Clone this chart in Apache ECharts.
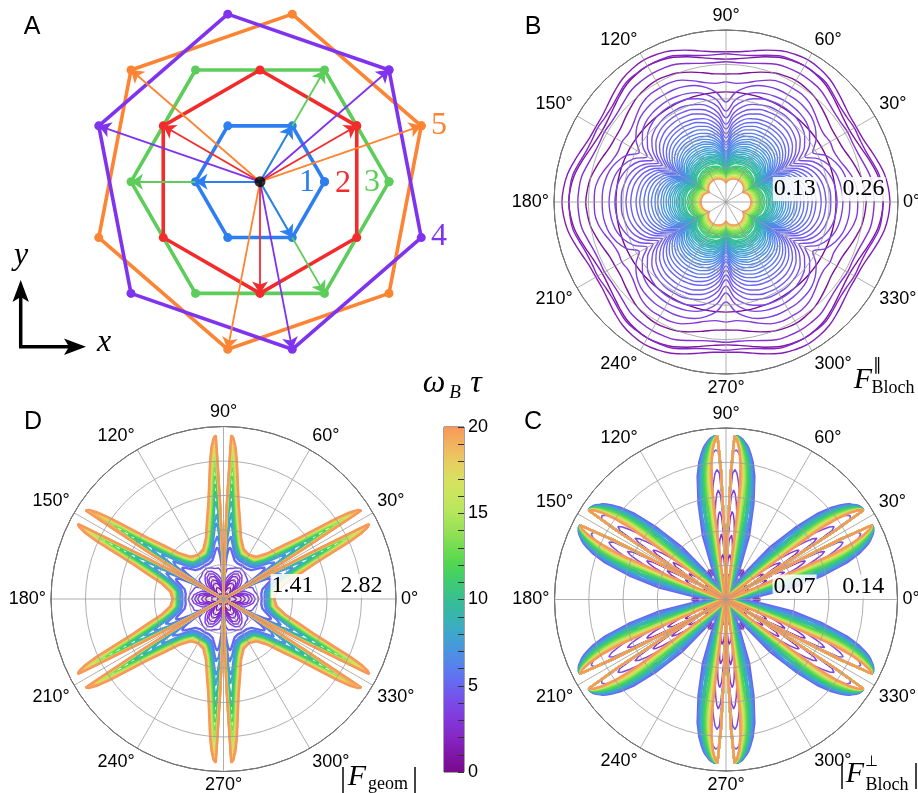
<!DOCTYPE html>
<html><head><meta charset="utf-8">
<script src="https://cdn.jsdelivr.net/npm/echarts@6.0.0/dist/echarts.min.js"></script>
<style>html,body{margin:0;padding:0;background:#fff}#c{width:918px;height:793px}</style>
</head><body><div id="c"></div>
<script>
// ---------------- Panel A : lattice shells (units of nearest-neighbour distance) ----------------
const HEX1 = [[1,0],[0.5,0.866],[-0.5,0.866],[-1,0],[-0.5,-0.866],[0.5,-0.866]];
const HEX2 = [[1.5,0.866],[0,1.732],[-1.5,0.866],[-1.5,-0.866],[0,-1.732],[1.5,-0.866]];
const HEX3 = [[2,0],[1,1.732],[-1,1.732],[-2,0],[-1,-1.732],[1,-1.732]];
const HEX4 = [[2,1.732],[-0.5,2.598],[-2.5,0.866],[-2,-1.732],[0.5,-2.598],[2.5,-0.866]];
const HEX5 = [[2.5,0.866],[0.5,2.598],[-2,1.732],[-2.5,-0.866],[-0.5,-2.598],[2,-1.732]];
const ARROWS1 = [[0.5,0.866],[-1,0],[0.5,-0.866]];
const ARROWS2 = [[1.5,0.866],[-1.5,0.866],[0,-1.732]];
const ARROWS3 = [[1,1.732],[-2,0],[1,-1.732]];
const ARROWS4 = [[2,1.732],[-2.5,0.866],[0.5,-2.598]];
const ARROWS5 = [[2.5,0.866],[-2,1.732],[-0.5,-2.598]];
const SHELL_COLORS = ['#2d7ef0','#f22c2c','#5ccd5a','#7f33ee','#fd8433'];
const SHELL_LABELS = ['1','2','3','4','5'];

// ---------------- colour scale  (omega_B tau) ----------------
const CMAP_VALUES = [0,1,2,3,4,5,6,7,8,9,10,11,12,13,14,15,16,17,18,19,20];
const CMAP_COLORS = ['#780a8c','#7f16a8','#8526c4','#8237da','#7a4ae8','#6a64f2','#5a7eee','#4b93e0','#3fa6cc','#38b4b0','#37bf92','#3fcb72','#4fd653','#72dc50','#98e055','#b4e65c','#c8e65e','#d8e060','#e8cc60','#f2b25e','#f89858'];
const CBAR_TICKS = [0,5,10,15,20];

// ---------------- Panel B : F_Bloch parallel ; radii at half-sector angles (mirrored, 60 deg period) ----------------
const PHI_B = [0,5,10,15,20,25,30];
const OMEGA_B = [0,0.5,1,1.5,2,2.5,3,3.5,3.75,4,4.25,4.5,4.75,5,5.25,5.5,5.75,6,6.25,6.5,6.75,7,7.25,7.5,7.75,8,8.25,8.5,8.75,9,9.25,9.5,9.75,10,10.5,11,11.5,12,12.5,13,13.5,14,14.5,15,16,17,18,19,20];
const R_B = [
[.208,.208,.208,.208,.208,.208,.208],
[.265,.263,.260,.254,.248,.243,.242],
[.297,.295,.291,.284,.277,.272,.270],
[.310,.308,.304,.297,.290,.285,.284],
[.297,.296,.294,.287,.281,.279,.280],
[.280,.279,.277,.271,.266,.264,.265],
[.249,.249,.245,.237,.229,.225,.227],
[.234,.234,.232,.228,.220,.208,.189],
[.221,.220,.218,.214,.206,.193,.172],
[.210,.209,.207,.202,.194,.181,.159],
[.198,.198,.195,.191,.183,.169,.147],
[.189,.188,.186,.181,.173,.160,.138],
[.180,.179,.177,.172,.164,.150,.129],
[.170,.169,.167,.163,.155,.142,.121],
[.163,.162,.160,.155,.147,.135,.113],
[.155,.154,.152,.148,.140,.128,.108],
[.147,.147,.145,.141,.133,.122,.102],
[.141,.140,.138,.134,.127,.115,.096],
[.134,.134,.132,.128,.121,.110,.092],
[.129,.128,.126,.122,.116,.105,.088],
[.123,.122,.121,.117,.111,.101,.084],
[.118,.118,.116,.113,.107,.097,.081],
[.113,.113,.111,.108,.103,.094,.078],
[.109,.108,.107,.104,.098,.090,.076],
[.105,.105,.103,.100,.095,.087,.074],
[.101,.101,.099,.097,.092,.084,.072],
[.097,.097,.096,.093,.089,.082,.070],
[.094,.093,.092,.090,.086,.079,.068],
[.091,.090,.089,.087,.083,.077,.066],
[.088,.088,.087,.084,.081,.075,.065],
[.085,.085,.084,.082,.078,.073,.063],
[.082,.082,.081,.079,.076,.070,.062],
[.080,.080,.079,.077,.074,.069,.060],
[.077,.077,.076,.075,.072,.067,.059],
[.074,.073,.072,.070,.068,.063,.057],
[.071,.070,.070,.068,.065,.061,.055],
[.068,.068,.067,.065,.063,.059,.053],
[.066,.065,.064,.063,.060,.057,.051],
[.064,.063,.062,.061,.059,.055,.050],
[.061,.061,.060,.059,.057,.053,.049],
[.060,.060,.059,.057,.055,.052,.048],
[.058,.058,.057,.056,.054,.051,.046],
[.057,.057,.056,.055,.053,.050,.045],
[.056,.055,.055,.053,.052,.049,.044],
[.053,.053,.052,.051,.049,.047,.043],
[.051,.051,.050,.049,.047,.045,.041],
[.050,.050,.049,.048,.046,.043,.039],
[.048,.048,.047,.046,.044,.042,.037],
[.047,.047,.046,.045,.043,.040,.036]];
const B_TICK_VALUES = [0.13,0.26];
const B_TICK_LABELS = ['0.13','0.26'];

// ---------------- Panel D : |F_geom| ----------------
const PHI_D = [0,8,14,18,21,23,24.5,25.5,26.5,27.3,28,29,30];
const OMEGA_D = [0.5,1,1.5,2,2.5,3,3.5,4,5,6,7,8,9,10,11,12,13,14,15,16,17,18,19,20];
const R_D = [
[.14,.13,.11,.08,.07,.05,.04,.03,.03,.02,.01,.01,0],
[.27,.24,.20,.16,.12,.10,.08,.06,.05,.04,.03,.01,0],
[.37,.34,.27,.22,.17,.13,.10,.09,.07,.05,.04,.02,0],
[.45,.41,.33,.26,.20,.16,.13,.10,.08,.06,.05,.02,0],
[.53,.49,.39,.31,.24,.19,.15,.12,.10,.08,.06,.03,0],
[.59,.55,.46,.39,.33,.28,.23,.19,.15,.11,.08,.04,0],
[.65,.61,.54,.49,.45,.41,.37,.33,.27,.20,.14,.06,0],
[.72,.69,.65,.64,.64,.62,.58,.53,.45,.35,.25,.10,0],
[.78,.78,.82,.92,1.02,1.06,1.00,.90,.74,.55,.37,.14,0],
[.84,.85,.90,1.02,1.16,1.29,1.29,1.18,.98,.76,.51,.20,0],
[.88,.89,.95,1.10,1.29,1.47,1.56,1.47,1.25,.96,.65,.25,0],
[.91,.92,1.00,1.16,1.36,1.57,1.78,1.74,1.51,1.18,.82,.31,0],
[.94,.95,1.04,1.21,1.43,1.67,1.92,2.00,1.80,1.43,.98,.37,0],
[.96,.97,1.07,1.26,1.50,1.77,2.04,2.21,2.04,1.68,1.14,.43,0],
[.97,.98,1.10,1.30,1.56,1.86,2.16,2.35,2.29,1.90,1.27,.47,0],
[.98,.99,1.13,1.34,1.62,1.94,2.27,2.49,2.51,2.12,1.39,.51,0],
[.99,1.00,1.15,1.38,1.68,2.01,2.37,2.61,2.70,2.33,1.47,.53,0],
[1.00,1.01,1.17,1.42,1.73,2.08,2.46,2.72,2.83,2.53,1.55,.55,0],
[1.01,1.02,1.20,1.46,1.78,2.15,2.55,2.81,2.95,2.72,1.63,.57,0],
[1.02,1.03,1.22,1.50,1.83,2.21,2.62,2.89,3.05,2.90,1.70,.59,0],
[1.02,1.04,1.24,1.53,1.87,2.26,2.68,2.96,3.13,3.04,1.76,.61,0],
[1.03,1.06,1.26,1.56,1.91,2.31,2.74,3.02,3.20,3.17,1.84,.61,0],
[1.04,1.08,1.28,1.60,1.95,2.36,2.80,3.08,3.26,3.27,1.90,.63,0],
[1.04,1.10,1.30,1.63,1.98,2.40,2.85,3.12,3.30,3.35,1.94,.65,0]];
const D_TICK_VALUES = [1.41,2.82];
const D_TICK_LABELS = ['1.41','2.82'];

// ---------------- Panel C : |F_Bloch perpendicular| ----------------
const PHI_C = [0,5,10,14,17,19,20.5,21.5,22.3,23,24,25,26,27,27.8,28.6,29.3,30];
const OMEGA_C = [0.5,1,1.5,2,2.5,3,3.5,4,4.5,5,6,7,8,9,10,11,12,13,14,15,16,17,18,19,20];
const R_C = [
[.012,.011,.008,.006,.005,.004,.003,.003,.002,.002,.002,.002,.001,.001,.001,.001,0,0],
[.022,.020,.015,.011,.009,.009,.009,.009,.010,.010,.010,.010,.009,.008,.006,.004,.002,0],
[.031,.028,.020,.015,.014,.015,.017,.019,.021,.023,.026,.027,.026,.022,.017,.011,.005,0],
[.035,.032,.023,.018,.019,.022,.028,.032,.036,.039,.043,.046,.046,.042,.033,.020,.009,0],
[.033,.030,.022,.019,.022,.030,.037,.043,.049,.054,.061,.066,.067,.061,.048,.030,.012,0],
[.029,.027,.021,.021,.029,.039,.049,.057,.064,.070,.080,.087,.090,.084,.066,.041,.016,0],
[.024,.023,.022,.027,.039,.053,.065,.074,.083,.090,.100,.108,.112,.106,.086,.051,.020,0],
[.020,.021,.027,.039,.057,.073,.088,.097,.105,.112,.121,.129,.133,.129,.102,.059,.023,0],
[.015,.023,.043,.069,.092,.107,.118,.125,.132,.137,.144,.150,.153,.151,.118,.064,.026,0],
[.010,.031,.069,.102,.129,.143,.151,.156,.159,.161,.164,.166,.167,.167,.131,.069,.027,0],
[.007,.020,.055,.097,.124,.140,.149,.154,.158,.160,.163,.165,.167,.167,.131,.069,.027,0],
[.005,.013,.041,.088,.120,.137,.147,.153,.157,.159,.163,.165,.167,.167,.131,.069,.027,0],
[.004,.009,.029,.068,.114,.133,.144,.151,.155,.158,.162,.165,.167,.167,.131,.069,.027,0],
[.003,.007,.020,.049,.108,.129,.141,.149,.153,.157,.161,.164,.166,.167,.131,.069,.027,0],
[.003,.006,.015,.035,.096,.123,.138,.146,.151,.155,.160,.164,.166,.167,.131,.069,.027,0],
[.002,.005,.012,.026,.059,.114,.133,.143,.149,.153,.159,.163,.166,.167,.131,.069,.027,0],
[.002,.004,.010,.019,.041,.106,.128,.139,.146,.151,.157,.162,.166,.167,.131,.069,.027,0],
[.002,.004,.008,.015,.031,.063,.120,.134,.142,.148,.155,.161,.165,.167,.131,.069,.027,0],
[.001,.003,.007,.012,.023,.041,.112,.129,.138,.145,.153,.160,.165,.167,.131,.069,.027,0],
[.001,.003,.006,.010,.018,.031,.082,.122,.134,.142,.151,.159,.164,.167,.131,.069,.027,0],
[.001,.002,.005,.009,.015,.024,.041,.116,.130,.139,.149,.158,.164,.167,.131,.069,.027,0],
[.001,.002,.004,.007,.012,.019,.031,.092,.125,.136,.147,.157,.164,.167,.131,.069,.027,0],
[.001,.002,.004,.006,.010,.016,.024,.046,.120,.133,.145,.156,.163,.167,.131,.069,.027,0],
[.001,.002,.003,.005,.009,.013,.020,.036,.097,.129,.143,.155,.163,.167,.131,.069,.027,0],
[.001,.001,.003,.005,.008,.011,.017,.029,.061,.117,.140,.154,.163,.167,.131,.069,.027,0]];
const C_TICK_VALUES = [0.07,0.14];
const C_TICK_LABELS = ['0.07','0.14'];

// ---------------- helpers ----------------
function hexToRgb(h){return [parseInt(h.slice(1,3),16),parseInt(h.slice(3,5),16),parseInt(h.slice(5,7),16)];}
function cmap(v){
  for(let i=0;i<CMAP_VALUES.length-1;i++){
    if(v<=CMAP_VALUES[i+1]){
      const t=(v-CMAP_VALUES[i])/(CMAP_VALUES[i+1]-CMAP_VALUES[i]);
      const a=hexToRgb(CMAP_COLORS[i]), b=hexToRgb(CMAP_COLORS[i+1]);
      return 'rgb('+a.map((x,k)=>Math.round(x+(b[k]-x)*t)).join(',')+')';
    }
  }
  return CMAP_COLORS[CMAP_COLORS.length-1];
}
// mirror half-sector samples (0..30 deg) into a full closed curve with 60-degree period
function buildCurve(phi,r){
  const pts=[];
  for(let k=0;k<6;k++){
    const base=60*k;
    for(let i=0;i<phi.length;i++) pts.push([r[i],base+phi[i]]);
    for(let i=phi.length-2;i>=1;i--) pts.push([r[i],base+60-phi[i]]);
  }
  pts.push([r[0],360]);
  return pts;
}
function polarSeries(pi,omegas,phi,rows,widthLow,widthHigh,smooth){
  return omegas.map((w,j)=>({type:'line',coordinateSystem:'polar',polarIndex:pi,data:buildCurve(phi,rows[j]),
    showSymbol:false,symbol:'none',smooth:smooth,silent:true,z:2,lineStyle:{color:cmap(w),width:w>=5?widthHigh:widthLow}}));
}
const SANS="'Liberation Sans', Arial, Helvetica, sans-serif";
const SERIF="'Liberation Serif', 'Times New Roman', serif";
function tickFmt(vals,labels){
  return v=>{const i=vals.findIndex(t=>Math.abs(t-v)<1e-6);return i>=0?'{b|'+labels[i]+'}':'';};
}
function angleAxis(pi){
  return {polarIndex:pi,type:'value',min:0,max:360,interval:30,startAngle:0,clockwise:false,z:3,
    axisLine:{show:true,lineStyle:{color:'#000',width:1}},axisTick:{show:false},
    axisLabel:{color:'#000',fontSize:18,fontFamily:SANS,margin:5,formatter:v=>v>=360?'':v+'°'},
    splitLine:{show:true,lineStyle:{color:'#9a9a9a',width:0.8}}};
}
function radiusAxis(pi,max,interval,vals,labels){
  return {polarIndex:pi,type:'value',min:0,max:max,interval:interval,z:4,
    axisLine:{show:false},axisTick:{show:false},
    axisLabel:{margin:1,formatter:tickFmt(vals,labels),rich:{b:{fontFamily:SERIF,fontSize:24,color:'#000',
      backgroundColor:'rgba(255,255,255,0.85)',padding:[0,1,0,1]}}},
    splitLine:{show:true,lineStyle:{color:'#9a9a9a',width:0.8}}};
}

// ---------------- series ----------------
const series=[];
const shells=[HEX5,HEX4,HEX3,HEX2,HEX1], shellIdx=[4,3,2,1,0];
shells.forEach((h,k)=>{
  const c=SHELL_COLORS[shellIdx[k]];
  series.push({type:'line',xAxisIndex:0,yAxisIndex:0,data:h.concat([h[0]]),symbol:'circle',symbolSize:9,showSymbol:true,
    silent:true,z:2,lineStyle:{color:c,width:3.6},itemStyle:{color:c}});
});
[ARROWS5,ARROWS4,ARROWS3,ARROWS2,ARROWS1].forEach((a,k)=>{
  const c=SHELL_COLORS[shellIdx[k]];
  series.push({type:'lines',coordinateSystem:'cartesian2d',xAxisIndex:0,yAxisIndex:0,silent:true,z:3,
    symbol:['none','arrow'],symbolSize:12,lineStyle:{color:c,width:1.8,opacity:1,curveness:0},
    data:a.map(p=>({coords:[[0,0],p]}))});
});
series.push({type:'scatter',xAxisIndex:0,yAxisIndex:0,data:[[0,0]],symbolSize:11,itemStyle:{color:'#000'},z:4,silent:true});
// colour bar
series.push({type:'bar',xAxisIndex:1,yAxisIndex:1,data:[20],barWidth:'100%',silent:true,
  itemStyle:{color:new echarts.graphic.LinearGradient(0,1,0,0,CMAP_VALUES.map((v,i)=>({offset:v/20,color:CMAP_COLORS[i]})))}});
// polar families
series.push(...polarSeries(0,OMEGA_B,PHI_B,R_B,1.4,1.4,0.4));
series.push(...polarSeries(1,OMEGA_D,PHI_D,R_D,1.5,2.4,false));
series.push(...polarSeries(2,OMEGA_C,PHI_C,R_C,1.5,2.3,false));

function txt(x,y,t,size,color,font,style){
  return {type:'text',x:x,y:y,silent:true,z:10,style:{text:t,fontSize:size,fontFamily:font,fontStyle:style||'normal',fill:color,align:'center',verticalAlign:'middle'}};
}
const graphic=[
  txt(32,27,'A',25,'#000',SANS), txt(533,27,'B',25,'#000',SANS),
  txt(33,422,'D',25,'#000',SANS), txt(533,422,'C',25,'#000',SANS),
  txt(307,183,SHELL_LABELS[0],32,SHELL_COLORS[0],SERIF), txt(343,184,SHELL_LABELS[1],32,SHELL_COLORS[1],SERIF),
  txt(372,183,SHELL_LABELS[2],32,SHELL_COLORS[2],SERIF), txt(439,237,SHELL_LABELS[3],32,SHELL_COLORS[3],SERIF),
  txt(439,126,SHELL_LABELS[4],32,SHELL_COLORS[4],SERIF),
  txt(21,256,'y',32,'#000',SERIF,'italic'), txt(104,343,'x',32,'#000',SERIF,'italic'),
  {type:'polyline',silent:true,shape:{points:[[20.7,348],[20.7,295]]},style:{stroke:'#000',lineWidth:3.5,fill:null}},
  {type:'polyline',silent:true,shape:{points:[[19,346.7],[71,346.7]]},style:{stroke:'#000',lineWidth:3.5,fill:null}},
  {type:'polygon',silent:true,shape:{points:[[20.7,280],[12.5,302],[20.7,297],[28.9,302]]},style:{fill:'#000'}},
  {type:'polygon',silent:true,shape:{points:[[86,346.7],[64,338.5],[69,346.7],[64,354.9]]},style:{fill:'#000'}},
  // omega_B tau
  txt(434,384,'ω',32,'#000',SERIF,'italic'), txt(455,393,'B',19,'#000',SERIF,'italic'), txt(476,384,'τ',32,'#000',SERIF,'italic'),
  // F parallel Bloch
  txt(863,380,'F',30,'#000',SERIF,'italic'), txt(877,366,'∥',17,'#000',SERIF), txt(893,388,'Bloch',18,'#000',SERIF),
  // |F geom|
  txt(343,779,'|',30,'#000',SERIF), txt(357,777,'F',30,'#000',SERIF,'italic'), txt(388,784,'geom',18,'#000',SERIF), txt(415,779,'|',30,'#000',SERIF),
  // |F perp Bloch|
  txt(842,775,'|',30,'#000',SERIF), txt(855,774,'F',30,'#000',SERIF,'italic'), txt(871,762,'⊥',15,'#000',SERIF), txt(887,785,'Bloch',18,'#000',SERIF), txt(916,775,'|',30,'#000',SERIF)
];

const option={
  animation:false,
  backgroundColor:'#fff',
  grid:[{left:2,top:1.1,width:516,height:361.2},
        {left:444,top:427,width:20,height:345,show:true,borderColor:'#444',borderWidth:1,backgroundColor:'transparent'}],
  xAxis:[{gridIndex:0,type:'value',min:-4,max:4,show:false},
         {gridIndex:1,type:'category',data:['cb'],show:false}],
  yAxis:[{gridIndex:0,type:'value',min:-2.8,max:2.8,show:false},
         {gridIndex:1,type:'value',min:0,max:20,interval:5,position:'right',z:5,
          axisLine:{show:false},splitLine:{show:false},
          axisTick:{show:true,inside:true,length:6,lineStyle:{color:'#333'}},
          minorTick:{show:true,splitNumber:5,length:6,lineStyle:{color:'#333'}},
          axisLabel:{color:'#000',fontSize:18,fontFamily:SANS,margin:4,
            formatter:v=>CBAR_TICKS.indexOf(v)>=0?String(v):''}}],
  polar:[{center:[726,202],radius:172},{center:[223.5,599],radius:172.5},{center:[726,599.5],radius:171.5}],
  angleAxis:[angleAxis(0),angleAxis(1),angleAxis(2)],
  radiusAxis:[radiusAxis(0,0.325,0.065,B_TICK_VALUES,B_TICK_LABELS),
              radiusAxis(1,3.525,0.705,D_TICK_VALUES,D_TICK_LABELS),
              radiusAxis(2,0.175,0.035,C_TICK_VALUES,C_TICK_LABELS)],
  series:series,
  graphic:graphic
};
const chart=echarts.init(document.getElementById('c'),null,{renderer:'canvas'});
chart.setOption(option);
</script></body></html>
